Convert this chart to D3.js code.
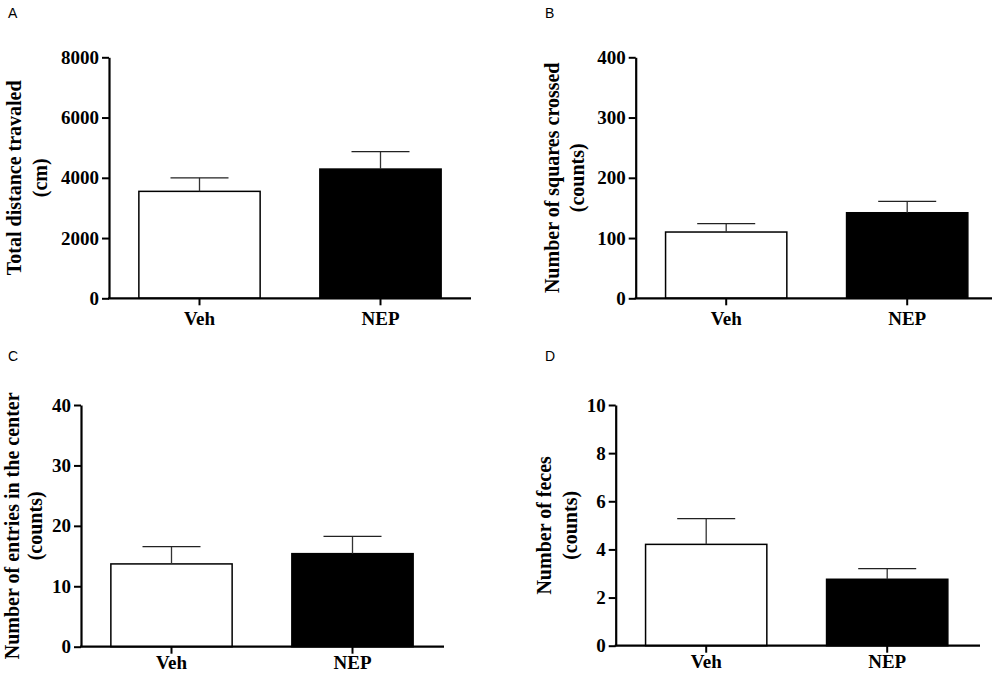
<!DOCTYPE html>
<html lang="en">
<head>
  <meta charset="UTF-8">
  <title>Open field test</title>
  <script src="https://d3js.org/d3.v7.min.js"></script>
  <style>
    body { margin: 0; background: #fff; }
    svg text.serif { font-family: "Liberation Serif", "Times New Roman", serif; font-weight: bold; }
    svg text.letter { font-family: "Liberation Sans", Arial, sans-serif; font-size: 14px; }
  </style>
</head>
<body>
  <div id="chart"></div>

  <script>
    // Groups on the x axis
    const categories = ["Veh", "NEP"];

    // Panel A: total distance travelled (cm)
    const distanceMean = [3550, 4290];
    const distanceSem = [450, 580];
    const distanceTicks = [0, 2000, 4000, 6000, 8000];

    // Panel B: squares crossed (counts)
    const squaresMean = [110, 142];
    const squaresSem = [14, 19];
    const squaresTicks = [0, 100, 200, 300, 400];

    // Panel C: entries in the center (counts)
    const entriesMean = [13.7, 15.4];
    const entriesSem = [2.85, 2.85];
    const entriesTicks = [0, 10, 20, 30, 40];

    // Panel D: feces (counts)
    const fecesMean = [4.21, 2.76];
    const fecesSem = [1.07, 0.44];
    const fecesTicks = [0, 2, 4, 6, 8, 10];

    const barFill = ["#ffffff", "#000000"];

    // Panel layout (pixel boxes of each plot)
    const panels = [
      { letter: "A", lx: 8, ly: 18, x0: 109, xEnd: 471, top: 57.3, bottom: 298.3, pad: 6,
        mean: distanceMean, sem: distanceSem, ticks: distanceTicks,
        title: ["Total distance travaled", "(cm)"], tx: [14, 40] },
      { letter: "B", lx: 545, ly: 18, x0: 635.7, xEnd: 992, top: 57.3, bottom: 298.3, pad: 6,
        mean: squaresMean, sem: squaresSem, ticks: squaresTicks,
        title: ["Number of squares crossed", "(counts)"], tx: [552, 577] },
      { letter: "C", lx: 8, ly: 361, x0: 81, xEnd: 444, top: 405, bottom: 646.7, pad: 2,
        mean: entriesMean, sem: entriesSem, ticks: entriesTicks,
        title: ["Number of entries in the center", "(counts)"], tx: [12, 35] },
      { letter: "D", lx: 545, ly: 361, x0: 615.7, xEnd: 980, top: 405, bottom: 645.7, pad: 2,
        mean: fecesMean, sem: fecesSem, ticks: fecesTicks,
        title: ["Number of feces", "(counts)"], tx: [544, 570] }
    ];

    const svg = d3.select("#chart").append("svg")
      .attr("width", 1000)
      .attr("height", 674);

    panels.forEach(p => {
      const g = svg.append("g");

      // Scales
      const x = d3.scaleBand()
        .domain(categories)
        .range([p.x0, p.x0 + 362])
        .paddingInner(0.33)
        .paddingOuter(0.165);

      const y = d3.scaleLinear()
        .domain([0, d3.max(p.ticks)])
        .range([p.bottom, p.top]);

      // Bars
      g.selectAll(".bar")
        .data(categories)
        .enter().append("rect")
          .attr("x", d => x(d))
          .attr("y", (d, i) => y(p.mean[i]))
          .attr("width", x.bandwidth())
          .attr("height", (d, i) => y(0) - y(p.mean[i]))
          .attr("fill", (d, i) => barFill[i])
          .attr("stroke", "#000")
          .attr("stroke-width", 1.5);

      // Error bars (upper only)
      const capHalf = 29;
      categories.forEach((d, i) => {
        const cx = x(d) + x.bandwidth() / 2;
        const yTop = y(p.mean[i] + p.sem[i]);
        g.append("line")
          .attr("x1", cx).attr("x2", cx)
          .attr("y1", y(p.mean[i])).attr("y2", yTop)
          .attr("stroke", "#333").attr("stroke-width", 1.3);
        g.append("line")
          .attr("x1", cx - capHalf).attr("x2", cx + capHalf)
          .attr("y1", yTop).attr("y2", yTop)
          .attr("stroke", "#222").attr("stroke-width", 1.3);
      });

      // Y axis
      const yAxis = g.append("g")
        .attr("transform", `translate(${p.x0},0)`)
        .call(d3.axisLeft(y).tickValues(p.ticks).tickSize(7).tickSizeOuter(0).tickPadding(3).tickFormat(d3.format("d")));
      yAxis.select(".domain").attr("stroke-width", 2.2);
      yAxis.selectAll(".tick line").attr("stroke-width", 2);
      yAxis.selectAll(".tick text")
        .attr("class", "serif")
        .attr("font-size", 19)
        .attr("fill", "#000");

      // X axis
      const xAxis = g.append("g")
        .attr("transform", `translate(0,${p.bottom})`)
        .call(d3.axisBottom(x).tickSize(7).tickSizeOuter(0).tickPadding(p.pad));
      xAxis.select(".domain")
        .attr("d", `M${p.x0 - 1},0H${p.xEnd}`)
        .attr("stroke-width", 2.2);
      xAxis.selectAll(".tick line").attr("stroke-width", 2);
      xAxis.selectAll(".tick text")
        .attr("class", "serif")
        .attr("font-size", 19)
        .attr("fill", "#000");

      // Y axis title, two lines
      const cy = (p.top + p.bottom) / 2;
      p.title.forEach((t, k) => {
        g.append("text")
          .attr("class", "serif")
          .attr("transform", `translate(${p.tx[k]},${cy}) rotate(-90)`)
          .attr("text-anchor", "middle")
          .attr("dominant-baseline", "central")
          .attr("font-size", 20)
          .text(t);
      });

      // Panel letter
      g.append("text")
        .attr("class", "letter")
        .attr("x", p.lx)
        .attr("y", p.ly)
        .text(p.letter);
    });
  </script>
</body>
</html>
